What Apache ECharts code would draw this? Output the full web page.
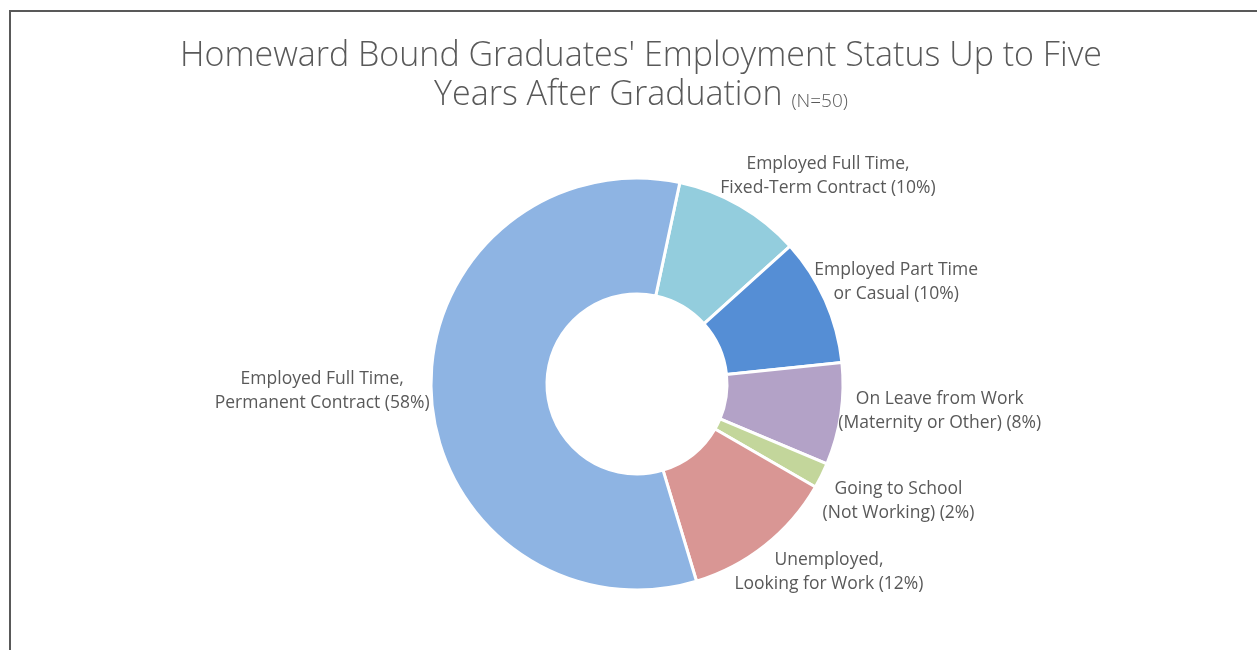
<!DOCTYPE html>
<html>
<head>
<meta charset="utf-8">
<script src="https://cdn.jsdelivr.net/npm/echarts@6/dist/echarts.min.js"></script>
<style>
  html, body { margin: 0; padding: 0; background: #fff; }
  #chart { width: 1257px; height: 650px; }
</style>
</head>
<body>
<div id="chart"></div>
<script>
// categories clockwise from the top, as in the original
var categories = [
	'Employed Full Time,\nFixed-Term Contract',
	'Employed Part Time\nor Casual',
	'On Leave from Work\n(Maternity or Other)',
	'Going to School\n(Not Working)',
	'Unemployed,\nLooking for Work',
	'Employed Full Time,\nPermanent Contract'
];
var shares = [ 10, 10, 8, 2, 12, 58 ];
var palette = [ '#93CDDD', '#558ED5', '#B3A2C7', '#C3D69B', '#D99694', '#8EB4E3' ];

// pie geometry (px)
var cx = 637, cy = 384, rOuter = 206, rInner = 90, firstAngle = 12;

// label shift from the outer-edge midpoint of each slice (Excel style placement)
var labelShift = [ [88,-30], [71,-18], [99,-3], [77,25], [64,27], [-109,-2] ];

var total = shares.reduce( function( a, b ){ return a + b; }, 0 );
var midAngles = [];
var acc = firstAngle;
for( var i = 0; i < shares.length; i++ )
{
	midAngles.push( acc + shares[i] / total * 180 );
	acc += shares[i] / total * 360;
}

var seriesData = categories.map( function( name, i ){
	return { name: name, value: shares[i], itemStyle: { color: palette[i] } };
});

var chart = echarts.init( document.getElementById( 'chart' ), null, { renderer: 'canvas' } );
chart.setOption({
	animation: false,
	title: {
		text: '{a|Homeward Bound Graduates\' Employment Status Up to Five}\n{a|Years After Graduation }{b|(N=50)}',
		left: 636,
		top: 32,
		textAlign: 'center',
		textStyle: {
			rich: {
				a: { fontFamily: 'Open Sans', fontWeight: 300, fontSize: 34, color: '#595959', lineHeight: 39 },
				b: { fontFamily: 'Open Sans', fontWeight: 300, fontSize: 19, color: '#595959', lineHeight: 39, verticalAlign: 'bottom', padding: [0, 0, 4, 0] }
			}
		}
	},
	graphic: [{
		type: 'rect',
		shape: { x: 10, y: 11, width: 1400, height: 800 },
		style: { fill: 'none', stroke: '#595959', lineWidth: 2 },
		silent: true
	}],
	series: [{
		type: 'pie',
		center: [ cx, cy ],
		radius: [ rInner, rOuter ],
		startAngle: 90 - firstAngle,
		clockwise: true,
		avoidLabelOverlap: false,
		itemStyle: { borderColor: '#ffffff', borderWidth: 3 },
		label: {
			show: true,
			position: 'outside',
			formatter: function( p ){ return p.name + ' (' + p.value + '%)'; },
			fontFamily: 'Open Sans',
			fontSize: 17.5,
			lineHeight: 24,
			color: '#595959',
			align: 'center'
		},
		labelLine: { show: false },
		labelLayout: function( p ){
			var a = midAngles[p.dataIndex] * Math.PI / 180;
			var ax = cx + rOuter * Math.sin( a );
			var ay = cy - rOuter * Math.cos( a );
			var s = labelShift[p.dataIndex];
			return { x: ax + s[0], y: ay + s[1], align: 'center', verticalAlign: 'middle' };
		},
		data: seriesData
	}]
});
</script>
</body>
</html>
